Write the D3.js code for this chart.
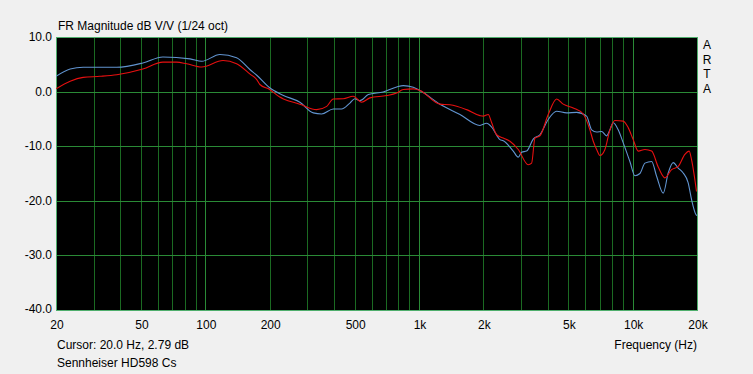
<!DOCTYPE html>
<html><head><meta charset="utf-8">
<script src="https://cdn.jsdelivr.net/npm/d3@7"></script>
<style>
html,body{margin:0;padding:0;background:#f0f0f0;}
text{font-family:"Liberation Sans",Arial,sans-serif;font-size:12px;fill:#000;}
</style></head>
<body>
<script>
const blueFreq = [20,23.3,26.8,38.5,51,63.3,84.8,96.2,117,140,162,174,200,232,277,320,350,397,434,475,501,529,579,680,786,844,940,1010,1253,1555,1928,2072,2188,2392,2479,2761,2914,3023,3189,3424,3680,4024,4406,4909,5466,6086,6424,6781,7154,7552,7826,8108,8557,9032,9705,10244,10811,11410,12266,12942,13899,14667,15475,16331,17236,18190,18866,19760,20000];
const blueDb = [2.8,4.15,4.45,4.45,5.25,6.35,6.0,5.55,6.8,6.2,4.0,3.0,0.7,-0.7,-1.95,-3.9,-4.1,-3.2,-3.2,-2.1,-1.3,-1.65,-0.55,-0.06,0.85,1.1,0.8,0.2,-2.3,-4.2,-6.2,-5.8,-6.5,-8.8,-9.0,-10.9,-12.0,-11.1,-10.9,-8.7,-7.9,-5.1,-3.6,-3.9,-3.8,-4.5,-7.0,-7.4,-7.3,-8.1,-7.0,-5.7,-7.0,-9.4,-12.8,-15.4,-15.0,-13.1,-12.8,-15.5,-18.6,-14.9,-13.0,-14.0,-14.9,-16.7,-19.8,-22.5,-22.7];
const redFreq = [20,23.3,26.8,32.1,38.5,51,63.3,73.4,81.8,96.2,121,140,162,174,180,200,223,232,277,332,370,397,442,492,539,589,706,786,844,940,1010,1253,1396,1671,1928,2000,2108,2188,2308,2479,2664,2914,3244,3366,3489,3680,4024,4406,4732,5270,5868,6308,6538,6781,7024,7415,7826,8257,9032,9529,10058,10617,11410,12266,13168,14155,15205,16331,17552,18386,18866,19900];
const redDb = [0.5,1.9,2.6,2.8,3.1,4.15,5.4,5.4,5.1,4.5,5.7,5.1,3.2,2.2,1.3,0.4,-1.0,-1.35,-2.3,-3.3,-2.7,-1.35,-1.3,-0.85,-1.95,-1.15,-0.73,-0.25,0.37,0.5,0.2,-2.3,-2.4,-3.3,-4.4,-4.5,-4.2,-5.7,-7.9,-8.5,-9.1,-10.6,-13.4,-13.1,-8.5,-8.1,-4.2,-1.35,-2.3,-3.0,-4.1,-7.0,-9.1,-10.6,-11.7,-10.6,-7.0,-5.3,-5.4,-6.6,-8.8,-10.9,-10.6,-10.9,-13.8,-15.8,-14.3,-13.7,-11.5,-10.9,-12.5,-18.3];
const xTickVals = [20,50,100,200,500,1000,2000,5000,10000,20000];
const xTickLabels = ["20","50","100","200","500","1k","2k","5k","10k","20k"];
const yTickVals = [10,0,-10,-20,-30,-40];
const yTickLabels = ["10.0","0.0","-10.0","-20.0","-30.0","-40.0"];
const gridFreqs = [30,40,50,60,70,80,90,100,200,300,400,500,600,700,800,900,1000,2000,3000,4000,5000,6000,7000,8000,9000,10000];

const W=753,H=374;
const L=56,R=697,T=37,B=310;
const svg=d3.select("body").append("svg").attr("width",W).attr("height",H);
svg.append("rect").attr("width",W).attr("height",H).attr("fill","#f0f0f0");
const x=d3.scaleLog().domain([20,20000]).range([L,R]);
const y=d3.scaleLinear().domain([-40,10]).range([B,T]);

svg.append("rect").attr("x",L).attr("y",T).attr("width",R-L).attr("height",B-T).attr("fill","#000");
const g=svg.append("g");
g.selectAll("line.v").data(gridFreqs).enter().append("line")
 .attr("x1",d=>Math.round(x(d))+0.5).attr("x2",d=>Math.round(x(d))+0.5)
 .attr("y1",T).attr("y2",B).attr("stroke",d=>[100,1000,10000].includes(d)?"#2a8a36":"#1b6a22").attr("stroke-width",1);
g.selectAll("line.h").data(yTickVals).enter().append("line")
 .attr("x1",L).attr("x2",R)
 .attr("y1",d=>Math.round(y(d))+0.5).attr("y2",d=>Math.round(y(d))+0.5)
 .attr("stroke","#2a8a36").attr("stroke-width",1);
svg.append("rect").attr("x",L+0.5).attr("y",T+0.5).attr("width",R-L).attr("height",B-T)
 .attr("fill","none").attr("stroke","#4fae6c").attr("stroke-width",1);

const clip=svg.append("clipPath").attr("id","c").append("rect").attr("x",L).attr("y",T).attr("width",R-L+1).attr("height",B-T);
const line=d3.line().x(d=>x(d[0])).y(d=>y(d[1])).curve(d3.curveMonotoneX);
const blue=blueFreq.map((f,i)=>[f,blueDb[i]]);
const red=redFreq.map((f,i)=>[f,redDb[i]]);
svg.append("path").attr("d",line(blue)).attr("fill","none").attr("stroke","#6194d0").attr("stroke-width",1.1).attr("clip-path","url(#c)");
svg.append("path").attr("d",line(red)).attr("fill","none").attr("stroke","#e81010").attr("stroke-width",1.1).attr("clip-path","url(#c)");

svg.selectAll("text.yl").data(yTickVals).enter().append("text")
 .attr("x",L-4).attr("y",(d,i)=>y(d)+ (i===yTickVals.length-1?3:4)).attr("text-anchor","end").text((d,i)=>yTickLabels[i]);
svg.selectAll("text.xl").data(xTickVals).enter().append("text")
 .attr("x",d=>x(d)+1).attr("y",329).attr("text-anchor","middle").text((d,i)=>xTickLabels[i]);

svg.append("text").attr("x",58).attr("y",30).text("FR Magnitude dB V/V (1/24 oct)");
svg.append("text").attr("x",57).attr("y",349).text("Cursor: 20.0 Hz, 2.79 dB");
svg.append("text").attr("x",57).attr("y",367).text("Sennheiser HD598 Cs");
svg.append("text").attr("x",697).attr("y",349).attr("text-anchor","end").text("Frequency (Hz)");
["A","R","T","A"].forEach((c,i)=>svg.append("text").attr("x",707).attr("y",49+i*14.5).attr("text-anchor","middle").text(c));
</script>
</body></html>
